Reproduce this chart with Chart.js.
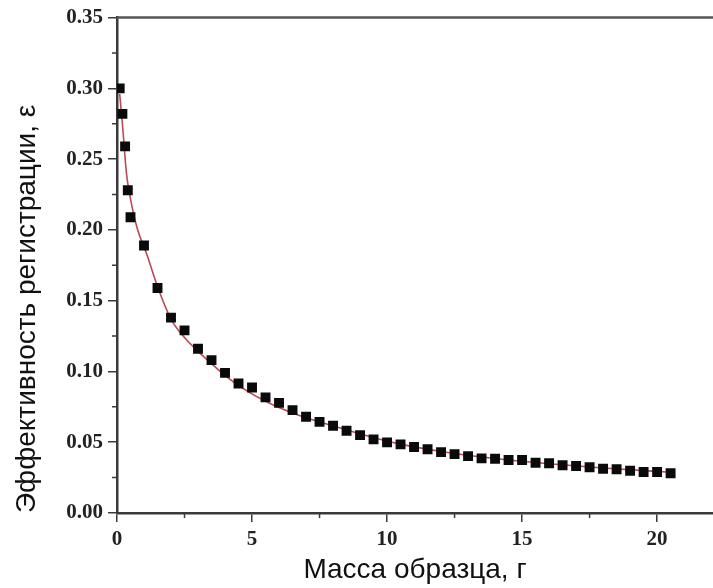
<!DOCTYPE html>
<html>
<head>
<meta charset="utf-8">
<script src="https://cdn.jsdelivr.net/npm/chart.js@4"></script>
<style>
  html, body { margin: 0; padding: 0; background: #fff; }
  #wrap { width: 713px; height: 588px; }
</style>
</head>
<body>
<div id="wrap"><canvas id="myChart" width="713" height="588"></canvas></div>
<script>
// measured points (mass in g, efficiency)
var massX = [0.1, 0.2, 0.3, 0.4, 0.5, 1.0, 1.5, 2.0, 2.5, 3.0, 3.5, 4.0, 4.5, 5.0, 5.5, 6.0, 6.5, 7.0, 7.5, 8.0, 8.5, 9.0, 9.5, 10.0, 10.5, 11.0, 11.5, 12.0, 12.5, 13.0, 13.5, 14.0, 14.5, 15.0, 15.5, 16.0, 16.5, 17.0, 17.5, 18.0, 18.5, 19.0, 19.5, 20.0, 20.5];
var effY = [0.300, 0.282, 0.259, 0.228, 0.209, 0.189, 0.159, 0.138, 0.129, 0.116, 0.108, 0.099, 0.0915, 0.0887, 0.0817, 0.0778, 0.0727, 0.068, 0.0644, 0.0616, 0.0581, 0.055, 0.052, 0.0499, 0.0485, 0.0466, 0.045, 0.043, 0.0416, 0.0402, 0.0386, 0.0383, 0.0374, 0.0374, 0.0355, 0.0351, 0.0337, 0.0332, 0.0323, 0.0313, 0.0309, 0.0299, 0.029, 0.029, 0.0281];

// fitted curve
var fitX = [0.1, 0.2, 0.35, 0.5, 0.75, 1.1, 1.5, 2.0, 2.5, 3.07, 4.31, 5.54, 6.78, 8.0, 9.25, 10.36, 12, 14, 16, 18, 20.5];
var fitY = [0.296, 0.275, 0.24, 0.222, 0.201, 0.183, 0.160, 0.137, 0.124, 0.113, 0.0927, 0.0786, 0.0687, 0.0616, 0.0546, 0.0492, 0.0435, 0.0385, 0.0348, 0.0318, 0.0288];

// axis ticks
var xMajor = [0, 5, 10, 15, 20];
var xMinor = [2.5, 7.5, 12.5, 17.5];
var yMajor = [0, 0.05, 0.10, 0.15, 0.20, 0.25, 0.30, 0.35];
var yMinor = [0.025, 0.075, 0.125, 0.175, 0.225, 0.275, 0.325];

var axisColor = '#3a3a3a';
var tickFont = { family: 'Liberation Serif', size: 21, weight: 'bold' };
var titleFont = { family: 'Liberation Sans', size: 28, weight: 'normal' };

function toXY(xs, ys) {
    return xs.map(function (x, i) { return { x: x, y: ys[i] }; });
}

// top frame line and short minor ticks
var frame = {
    id: 'frame',
    afterDraw: function (chart) {
        var ctx = chart.ctx, a = chart.chartArea;
        var sx = chart.scales.x, sy = chart.scales.y;
        ctx.save();
        ctx.strokeStyle = '#555';
        ctx.lineWidth = 2.5;
        ctx.beginPath();
        ctx.moveTo(a.left, a.top);
        ctx.lineTo(chart.width, a.top);
        ctx.stroke();
        ctx.strokeStyle = axisColor;
        ctx.lineWidth = 1.5;
        ctx.beginPath();
        xMinor.forEach(function (v) {
            var px = sx.getPixelForValue(v);
            ctx.moveTo(px, a.bottom);
            ctx.lineTo(px, a.bottom + 5);
        });
        yMinor.forEach(function (v) {
            var py = sy.getPixelForValue(v);
            ctx.moveTo(a.left, py);
            ctx.lineTo(a.left - 5, py);
        });
        ctx.stroke();
        ctx.restore();
    }
};

var ctx = document.getElementById('myChart').getContext('2d');
var myChart = new Chart(ctx, {
    type: 'scatter',
    data: {
        datasets: [{
            label: 'data',
            data: toXY(massX, effY),
            pointStyle: 'rect',
            pointRadius: 7,
            backgroundColor: '#0a0a0a',
            borderColor: '#000',
            borderWidth: 0,
            showLine: false,
            order: 0
        }, {
            label: 'fit',
            data: toXY(fitX, fitY),
            showLine: true,
            pointRadius: 0,
            borderColor: 'rgb(185, 75, 85)',
            borderWidth: 1.6,
            cubicInterpolationMode: 'monotone',
            order: 1
        }]
    },
    options: {
        responsive: false,
        animation: false,
        layout: { autoPadding: false, padding: { top: 17, right: 0, left: 0, bottom: 0 } },
        plugins: {
            legend: { display: false },
            tooltip: { enabled: false }
        },
        scales: {
            x: {
                type: 'linear',
                min: 0,
                max: 22.07,
                afterBuildTicks: function (scale) {
                    scale.ticks = xMajor.map(function (v) { return { value: v }; });
                },
                afterFit: function (scale) {
                    scale.height = 75;
                    scale.paddingLeft = 0;
                    scale.paddingRight = 0;
                },
                ticks: {
                    color: '#222',
                    font: tickFont,
                    padding: 5,
                    maxRotation: 0,
                    callback: function (v) { return String(v); }
                },
                grid: {
                    drawOnChartArea: false,
                    drawTicks: true,
                    tickLength: 9,
                    color: axisColor,
                    lineWidth: 1.5
                },
                border: { display: true, color: axisColor, width: 2.5 },
                title: {
                    display: true,
                    text: 'Масса образца, г',
                    color: '#111',
                    font: titleFont,
                    padding: { top: 0, bottom: 1 }
                }
            },
            y: {
                type: 'linear',
                min: 0,
                max: 0.35,
                afterBuildTicks: function (scale) {
                    scale.ticks = yMajor.map(function (v) { return { value: v }; });
                },
                afterFit: function (scale) { scale.width = 117; },
                ticks: {
                    color: '#222',
                    font: tickFont,
                    padding: 5,
                    callback: function (v) { return v.toFixed(2); }
                },
                grid: {
                    drawOnChartArea: false,
                    drawTicks: true,
                    tickLength: 9,
                    color: axisColor,
                    lineWidth: 1.5
                },
                border: { display: true, color: axisColor, width: 2.5 },
                title: {
                    display: true,
                    text: 'Эффективность регистрации, ε',
                    align: 'start',
                    color: '#111',
                    font: titleFont,
                    padding: { top: 10, bottom: 0 }
                }
            }
        }
    },
    plugins: [frame]
});
</script>
</body>
</html>
